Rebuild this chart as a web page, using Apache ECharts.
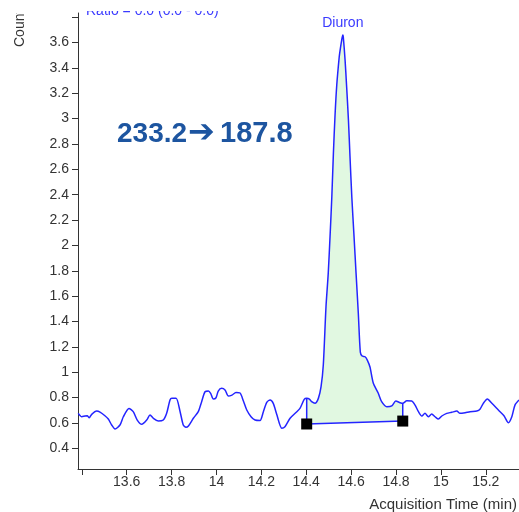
<!DOCTYPE html>
<html>
<head>
<meta charset="utf-8">
<script src="https://cdn.jsdelivr.net/npm/echarts@6/dist/echarts.min.js"></script>
<style>
html,body{margin:0;padding:0;background:#fff;}
#chart{width:519px;height:512px;}
</style>
</head>
<body>
<div id="chart"></div>
<script>
// Acquisition time (min)
const time = [13.384,13.400,13.414,13.424,13.433,13.444,13.466,13.481,13.503,13.518,13.533,13.548,13.570,13.585,13.610,13.629,13.647,13.667,13.689,13.704,13.719,13.741,13.763,13.778,13.793,13.801,13.820,13.838,13.852,13.864,13.875,13.897,13.919,13.934,13.949,13.964,13.974,13.986,13.998,14.008,14.023,14.038,14.053,14.069,14.087,14.105,14.120,14.135,14.154,14.172,14.194,14.209,14.224,14.239,14.253,14.268,14.291,14.305,14.328,14.358,14.372,14.391,14.402,14.414,14.424,14.439,14.454,14.466,14.476,14.488,14.498,14.506,14.514,14.521,14.528,14.536,14.547,14.551,14.558,14.563,14.565,14.573,14.580,14.588,14.595,14.603,14.613,14.622,14.632,14.641,14.649,14.662,14.672,14.684,14.699,14.721,14.736,14.759,14.781,14.799,14.818,14.830,14.848,14.870,14.885,14.900,14.915,14.929,14.944,14.959,14.974,14.989,15.004,15.026,15.048,15.071,15.085,15.108,15.130,15.160,15.174,15.189,15.207,15.227,15.256,15.281,15.301,15.316,15.330,15.348];
// Counts (x10^5)
const counts = [0.676,0.649,0.655,0.657,0.641,0.668,0.694,0.686,0.657,0.631,0.584,0.552,0.584,0.649,0.715,0.689,0.623,0.589,0.623,0.663,0.637,0.615,0.623,0.676,0.781,0.794,0.794,0.689,0.584,0.566,0.576,0.637,0.689,0.768,0.846,0.852,0.834,0.789,0.799,0.852,0.873,0.860,0.812,0.820,0.840,0.836,0.773,0.702,0.649,0.623,0.619,0.689,0.763,0.781,0.755,0.671,0.558,0.570,0.637,0.689,0.715,0.786,0.794,0.789,0.768,0.755,0.794,0.886,1.057,1.517,1.780,2.069,2.384,2.726,3.015,3.265,3.488,3.541,3.620,3.659,3.646,3.462,3.252,2.989,2.700,2.384,2.069,1.780,1.465,1.159,1.128,1.122,1.096,1.041,0.913,0.834,0.768,0.728,0.734,0.773,0.760,0.755,0.775,0.773,0.741,0.689,0.655,0.676,0.649,0.671,0.649,0.631,0.655,0.676,0.684,0.694,0.676,0.681,0.689,0.694,0.708,0.755,0.789,0.755,0.702,0.657,0.602,0.649,0.741,0.781];
// Integration baseline
const baselineTime = [14.402, 14.830];
const baselineCounts = [0.592, 0.615];
// Axis ticks
const xTicks = [13.4,13.6,13.8,14,14.2,14.4,14.6,14.8,15,15.2];
const xLabels = [13.6,13.8,14,14.2,14.4,14.6,14.8,15,15.2];
const yTicks = [0.4,0.6,0.8,1,1.2,1.4,1.6,1.8,2,2.2,2.4,2.6,2.8,3,3.2,3.4,3.6,3.8];
const yLabels = [0.4,0.6,0.8,1,1.2,1.4,1.6,1.8,2,2.2,2.4,2.6,2.8,3,3.2,3.4,3.6];
const peakName = 'Diuron';
const precursor = '233.2';
const product = '187.8';

const traceData = time.map((t, i) => [t, counts[i]]);
const baseData = baselineTime.map((t, i) => [t, baselineCounts[i]]);

const chart = echarts.init(document.getElementById('chart'), null, {renderer: 'canvas'});
const axisColor = '#333';
const font = 'Liberation Sans, Arial, sans-serif';
const bigColor = '#1d55a0';

chart.setOption({
  animation: false,
  backgroundColor: '#fff',
  grid: {left: 78, right: 0, top: 13, bottom: 43},
  xAxis: {
    type: 'value', min: 13.383, max: 15.348,
    axisLine: {show: true, onZero: false, lineStyle: {color: axisColor, width: 1}},
    axisTick: {show: true, length: 6, customValues: xTicks, lineStyle: {color: axisColor}},
    axisLabel: {customValues: xLabels, color: axisColor, fontSize: 14, fontFamily: font, margin: 6},
    splitLine: {show: false}
  },
  yAxis: {
    type: 'value', min: 0.237, max: 3.833,
    axisLine: {show: true, onZero: false, lineStyle: {color: axisColor, width: 1}},
    axisTick: {show: true, length: 6, customValues: yTicks, lineStyle: {color: axisColor}},
    axisLabel: {customValues: yLabels, color: axisColor, fontSize: 14, fontFamily: font, margin: 9},
    splitLine: {show: false}
  },
  series: [
    {
      type: 'custom',
      data: [[0]],
      z: 1,
      silent: true,
      renderItem: function (params, api) {
        const pts = [api.coord(baseData[0])];
        for (let i = 0; i < time.length; i++) {
          if (time[i] >= baselineTime[0] && time[i] <= baselineTime[1]) pts.push(api.coord([time[i], counts[i]]));
        }
        pts.push(api.coord(baseData[1]));
        const s0 = pts[0], s1 = pts[1], e1 = pts[pts.length - 2], e0 = pts[pts.length - 1];
        return {
          type: 'group',
          children: [
            {type: 'polygon', shape: {points: pts, smooth: 0}, style: {fill: '#e1f8e1', stroke: null}},
            {type: 'line', shape: {x1: s0[0], y1: s0[1], x2: s1[0], y2: s1[1]}, style: {stroke: '#2424ff', lineWidth: 1.5}},
            {type: 'line', shape: {x1: e0[0], y1: e0[1], x2: e1[0], y2: e1[1]}, style: {stroke: '#2424ff', lineWidth: 1.5}}
          ]
        };
      }
    },
    {
      type: 'line',
      data: traceData,
      symbol: 'none',
      smooth: 0.25,
      z: 3,
      lineStyle: {color: '#2424ff', width: 1.5},
      markPoint: {
        symbol: 'circle', symbolSize: 0,
        data: [{coord: [time[counts.indexOf(Math.max(...counts))], Math.max(...counts)], value: peakName}],
        label: {show: true, formatter: peakName, position: 'top', distance: 5, color: '#3a3aff', fontSize: 14, fontFamily: font}
      }
    },
    {
      type: 'line',
      data: baseData,
      z: 4,
      symbol: 'rect',
      symbolSize: 11,
      showSymbol: true,
      itemStyle: {color: '#000'},
      lineStyle: {color: '#2424ff', width: 1.5}
    }
  ],
  graphic: [
    {type: 'text', z: 10, style: {text: precursor, x: 117, y: 134, font: 'bold 28px Liberation Sans, Arial, sans-serif', fill: bigColor, textAlign: 'left', textVerticalAlign: 'middle'}},
    {type: 'text', z: 10, style: {text: '\u2794', x: 188, y: 134, font: 'bold 32px DejaVu Sans, sans-serif', fill: bigColor, textAlign: 'left', textVerticalAlign: 'middle'}},
    {type: 'text', z: 10, style: {text: product, x: 220, y: 134, font: 'bold 29px Liberation Sans, Arial, sans-serif', fill: bigColor, textAlign: 'left', textVerticalAlign: 'middle'}},
    {type: 'text', z: 10, rotation: Math.PI / 2, x: 20, y: 47, style: {text: 'Counts', font: '14px Liberation Sans, Arial, sans-serif', fill: axisColor, textAlign: 'left', textVerticalAlign: 'middle'}},
    {type: 'text', z: 10, style: {text: 'x10', x: 34, y: 16, font: '12px Liberation Sans, Arial, sans-serif', fill: axisColor, textAlign: 'left', textVerticalAlign: 'bottom'}},
    {type: 'text', z: 10, style: {text: 'Ratio = 0.0 (0.0 - 0.0)', x: 86, y: 18.5, font: '14px Liberation Sans, Arial, sans-serif', fill: '#3a3aff', textAlign: 'left', textVerticalAlign: 'bottom'}},
    {type: 'rect', z: 20, shape: {x: 0, y: 0, width: 75, height: 13}, style: {fill: '#fff'}},
    {type: 'rect', z: 20, shape: {x: 75, y: 0, width: 444, height: 11}, style: {fill: '#fff'}},
    {type: 'text', z: 10, style: {text: 'Acquisition Time (min)', x: 517, y: 505, font: '15px Liberation Sans, Arial, sans-serif', fill: axisColor, textAlign: 'right', textVerticalAlign: 'middle'}}
  ]
});
</script>
</body>
</html>
